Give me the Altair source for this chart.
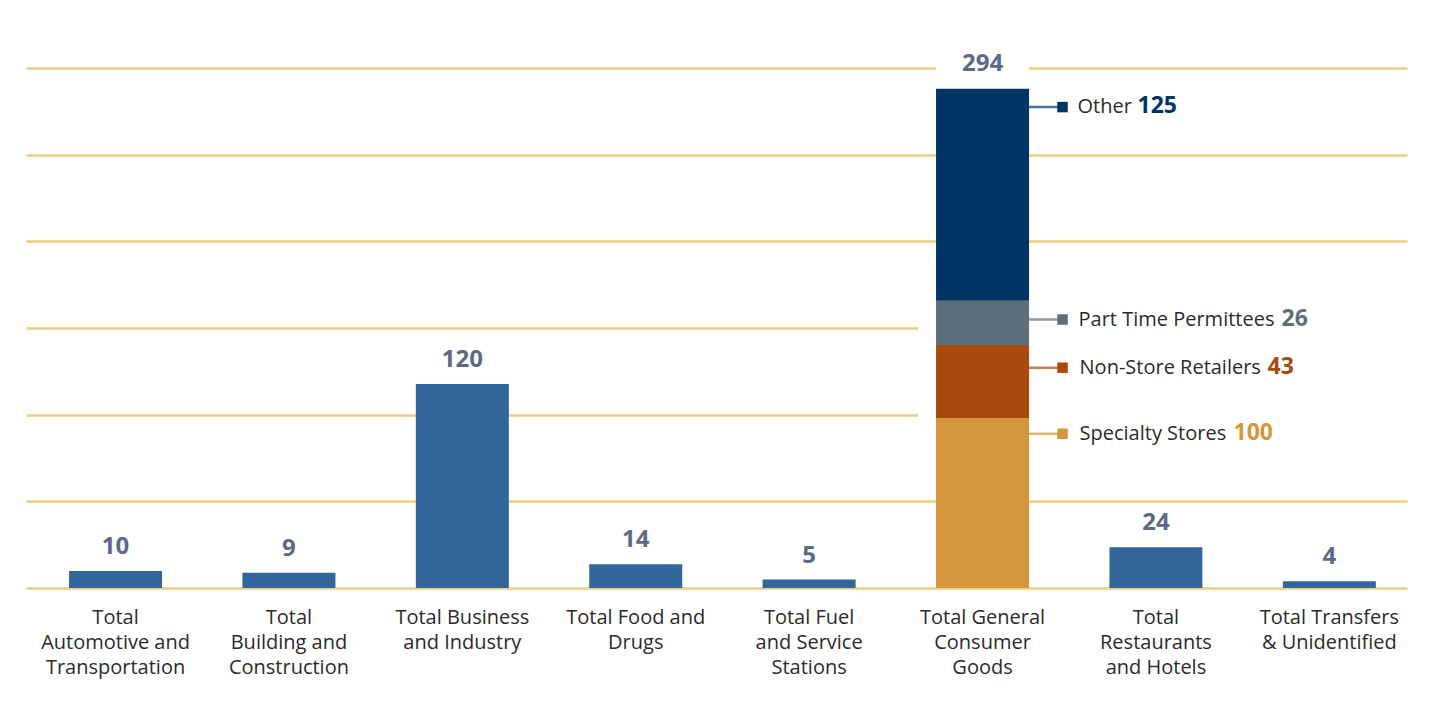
import altair as alt
import pandas as pd

# ---------------- data ----------------
category_lines = [
    ["Total", "Automotive and", "Transportation"],
    ["Total", "Building and", "Construction"],
    ["Total Business", "and Industry"],
    ["Total Food and", "Drugs"],
    ["Total Fuel", "and Service", "Stations"],
    ["Total General", "Consumer", "Goods"],
    ["Total", "Restaurants", "and Hotels"],
    ["Total Transfers", "& Unidentified"],
]
totals = [10, 9, 120, 14, 5, 294, 24, 4]
stacked_category = "Total General\nConsumer\nGoods"

segment_names = ["Specialty Stores", "Non-Store Retailers", "Part Time Permittees", "Other"]
segment_values = [100, 43, 26, 125]
segment_colors = ["#d4973b", "#a8490d", "#5e6e7b", "#003463"]

grid_values = [0, 51, 102, 153, 204, 255, 306]

# ---------------- tables ----------------
categories = ["\n".join(c) for c in category_lines]
totals_df = pd.DataFrame({"category": categories, "total": totals})
simple_df = totals_df[totals_df["category"] != stacked_category]
seg_df = pd.DataFrame({
    "category": [stacked_category] * len(segment_names),
    "segment": segment_names,
    "value": segment_values,
    "order": list(range(len(segment_names))),
})

# ---------------- style ----------------
FONT = "Open Sans"
BLUE = "#336699"
VALUE_GREY = "#5b6b87"
TEXT_DARK = "#2b2b2b"
GRID = "#ebcd85"
label_width = {  # pixel widths of annotation labels (style)
    "Other": 54,
    "Part Time Permittees": 197,
    "Non-Store Retailers": 182,
    "Specialty Stores": 148,
}
label_shift = {  # vertical pixel nudges of annotations (style)
    "Other": 0,
    "Part Time Permittees": 0,
    "Non-Store Retailers": 4,
    "Specialty Stores": -3,
}
label_xshift = {  # horizontal pixel nudges of annotation text (style)
    "Other": 0,
    "Part Time Permittees": 1,
    "Non-Store Retailers": 2,
    "Specialty Stores": 2,
}

x_enc = alt.X(
    "category:N",
    sort=None,
    scale=alt.Scale(domain=categories, paddingInner=0.4637, paddingOuter=0.214, align=0.58),
    axis=alt.Axis(
        title=None, labelAngle=0, domain=False, ticks=False,
        labelExpr="split(datum.label, '\\n')", labelFontSize=20, labelFont=FONT,
        labelColor=TEXT_DARK, labelLineHeight=25, labelPadding=19, labelLimit=0,
        labelBaseline="top",
    ),
)
y_scale = alt.Scale(domain=[0, 306], nice=False, zero=True)
y_axis = alt.Axis(
    title=None, values=grid_values, labels=False, ticks=False, domain=False,
    grid=True, gridColor=GRID, gridWidth=2.5,
)
color_enc = alt.Color("segment:N", scale=alt.Scale(domain=segment_names, range=segment_colors), legend=None)

# white mask that interrupts gridlines to the right of the stacked bar
mask_df = pd.DataFrame({"y0": [92], "y1": [162]})
mask = alt.Chart(mask_df).mark_rect(color="white").encode(
    x=alt.value(892), x2=alt.value(1395),
    y=alt.Y("y0:Q", scale=y_scale, axis=y_axis), y2="y1:Q",
)

# white box behind the "294" label
top_box = alt.Chart(totals_df).transform_filter(
    alt.datum.category == stacked_category
).transform_calculate(top="datum.total + 18").mark_bar(color="white").encode(
    x=x_enc, y=alt.Y("total:Q", scale=y_scale), y2="top:Q",
)

bars = alt.Chart(simple_df).mark_bar(color=BLUE).encode(
    x=x_enc, y=alt.Y("total:Q", scale=y_scale, axis=y_axis),
)

stack = alt.Chart(seg_df).mark_bar().encode(
    x=x_enc,
    y=alt.Y("value:Q", stack="zero", scale=y_scale),
    color=color_enc,
    order=alt.Order("order:Q"),
)

value_labels = alt.Chart(totals_df).mark_text(
    font=FONT, fontSize=24, fontWeight="bold", color=VALUE_GREY, baseline="alphabetic", dy=-17,
).encode(x=x_enc, y=alt.Y("total:Q", scale=y_scale), text="total:Q")

ann_base = alt.Chart(seg_df).transform_window(
    top="sum(value)", sort=[alt.SortField("order")], frame=[None, 0]
).transform_calculate(ly="datum.top - 11")

ann_layers = []
for name, col in zip(segment_names, segment_colors):
    base = ann_base.transform_filter(alt.datum.segment == name)
    sh = label_shift[name]
    xs = label_xshift[name]
    pos = dict(x=x_enc, y=alt.Y("ly:Q", scale=y_scale))
    ann_layers.append(base.mark_tick(
        size=34, thickness=2.5, xOffset=63, yOffset=sh, orient="horizontal", color=col
    ).encode(**pos))
    ann_layers.append(base.mark_square(
        size=110, opacity=1, xOffset=80, yOffset=sh, color=col
    ).encode(**pos))
    ann_layers.append(base.mark_text(
        align="left", baseline="middle", dx=95 + xs, dy=sh, font=FONT, fontSize=20, color=TEXT_DARK,
    ).encode(text="segment:N", **pos))
    ann_layers.append(base.mark_text(
        align="left", baseline="middle", dx=95 + xs + label_width[name] + 6, dy=sh - 1,
        font=FONT, fontSize=23, fontWeight="bold", color=col,
    ).encode(text="value:Q", **pos))

chart = alt.layer(
    mask, bars, stack, top_box, value_labels, *ann_layers
).properties(
    width=1381, height=520,
    autosize=alt.AutoSizeParams(type="none"),
    padding={"left": 18, "top": 60, "right": 30, "bottom": 100},
    background="white",
).configure_view(stroke=None)

chart.save("out.html", embed_options={"renderer": "svg", "actions": False})
